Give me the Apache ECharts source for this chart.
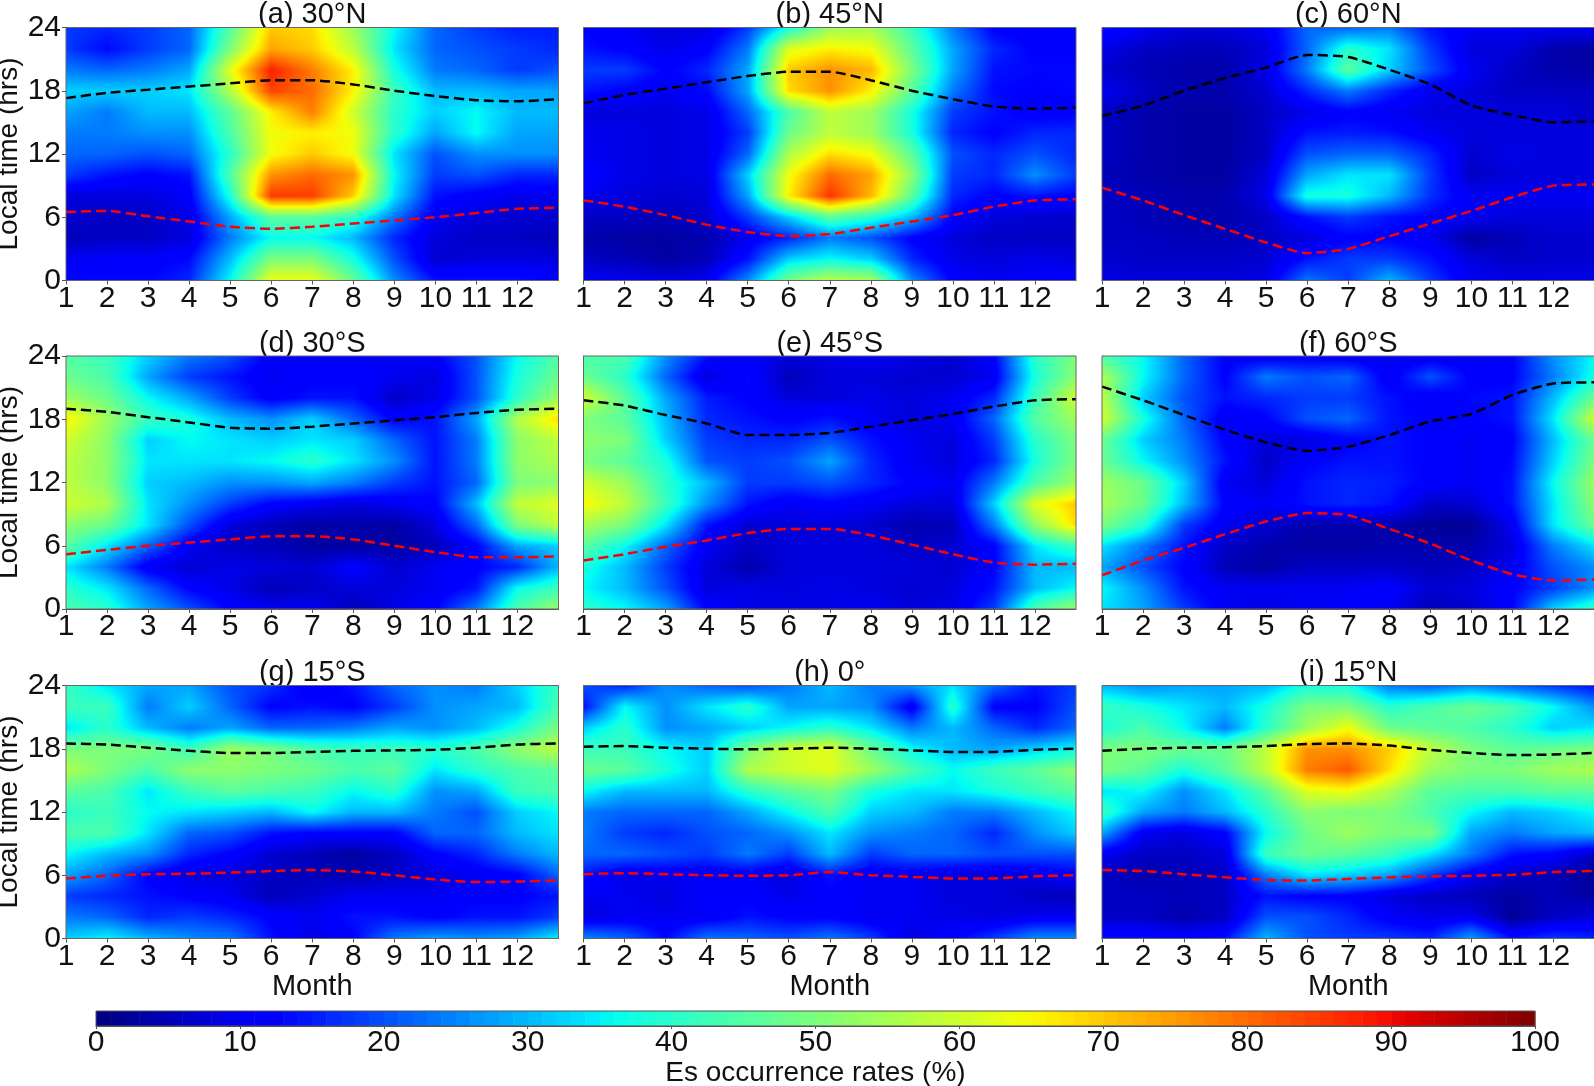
<!DOCTYPE html>
<html><head><meta charset="utf-8">
<style>html,body{margin:0;padding:0;background:#fff}#c{width:1594px;height:1086px}</style>
<script src="https://cdn.jsdelivr.net/npm/echarts@6/dist/echarts.min.js"></script>
</head><body><div id="c"></div>
<script>
const months=[1,2,3,4,5,6,7,8,9,10,11,12,13];
const hours=[24,22,20,18,16,14,12,10,8,6,4,2,0];
const titles=['(a) 30°N','(b) 45°N','(c) 60°N','(d) 30°S','(e) 45°S','(f) 60°S','(g) 15°S','(h) 0°','(i) 15°N'];
const panelA=[[18,16,18,22,45,70,68,54,36,22,18,15,15],[18,13,18,22,50,74,70,58,34,22,20,18,16],[24,22,24,28,62,88,78,66,38,24,22,18,20],[32,32,32,34,56,84,80,66,42,30,30,28,28],[28,24,30,30,46,66,78,60,40,32,36,30,30],[24,24,26,26,44,64,66,64,40,28,36,28,28],[22,22,20,22,40,64,70,64,34,20,26,26,26],[18,14,12,14,44,76,80,76,36,18,20,16,16],[8,8,8,11,38,85,85,70,34,14,11,9,10],[7,6,6,9,28,46,46,40,24,10,8,7,7],[5,6,6,8,24,36,36,30,16,8,6,6,5],[10,11,11,13,30,50,50,38,20,7,8,8,8],[13,13,13,16,36,64,64,48,26,14,14,14,12]];
const panelB=[[12,10,8,8,18,38,54,55,42,24,12,10,12],[14,12,9,12,24,62,66,64,46,28,16,12,12],[18,18,12,16,28,70,76,72,50,28,14,13,13],[14,12,10,13,28,68,76,66,46,24,13,12,13],[8,8,8,9,22,44,58,54,38,18,14,11,12],[10,9,8,9,18,48,58,54,38,16,12,16,16],[10,9,8,9,22,56,68,64,46,20,16,20,16],[12,9,8,9,32,64,80,74,52,18,16,26,18],[10,8,7,8,28,66,86,72,46,16,12,14,12],[6,6,5,7,18,32,46,40,30,12,8,7,7],[4,3,3,4,10,16,24,20,12,8,6,6,6],[6,5,3,5,14,32,36,32,16,9,8,9,8],[10,10,9,10,26,50,58,56,26,12,10,11,12]];
const panelC=[[14,10,8,8,10,22,22,24,14,10,10,10,10],[9,6,5,5,8,22,40,34,18,8,8,4,3],[7,5,4,4,9,24,46,32,20,10,6,4,3],[10,6,4,4,7,16,24,16,10,8,6,6,6],[6,4,3,3,6,9,12,10,8,8,8,8,6],[6,4,3,3,6,14,15,14,10,8,8,8,8],[6,4,3,3,6,20,22,22,16,7,9,8,8],[5,4,3,3,8,28,34,34,18,6,8,8,8],[6,5,4,4,9,38,38,30,17,10,10,10,10],[6,5,4,4,6,14,18,14,12,10,8,8,8],[6,6,5,5,6,8,12,12,10,3,5,7,7],[7,6,6,6,7,14,18,18,14,8,6,7,7],[9,8,8,8,9,24,18,30,18,10,9,9,9]];
const panelD=[[45,42,32,24,20,11,10,10,10,12,20,36,45],[48,44,28,18,14,10,12,12,10,8,20,38,48],[54,48,36,28,18,11,14,14,6,9,20,40,54],[66,54,42,38,30,26,32,22,12,14,28,56,68],[60,52,32,36,34,32,34,32,22,14,24,52,58],[58,52,34,34,34,36,40,34,26,14,24,52,56],[58,52,32,30,26,26,28,24,18,14,22,50,52],[60,56,34,26,18,12,10,8,10,12,30,58,62],[52,48,34,20,8,5,3,4,3,8,22,50,58],[46,34,22,10,6,5,3,3,3,5,12,28,32],[34,24,10,7,9,8,7,12,7,10,12,16,30],[40,34,22,12,9,5,6,8,8,10,14,36,42],[44,40,28,20,12,10,10,5,9,12,24,44,54]];
const panelE=[[44,44,26,14,11,8,9,10,9,7,12,40,50],[48,40,22,8,13,5,8,8,7,7,10,38,52],[60,46,28,15,12,8,8,9,8,10,16,42,60],[50,46,30,16,14,12,14,10,8,10,22,45,54],[52,50,32,18,16,16,20,14,10,8,18,40,50],[50,46,38,20,18,20,28,16,10,8,16,38,50],[60,54,40,30,18,18,20,16,12,10,24,44,54],[65,58,42,26,14,10,12,10,8,8,32,62,70],[55,50,34,14,7,8,8,7,4,5,24,52,68],[46,36,22,10,6,8,8,8,6,7,12,34,42],[38,30,18,8,4,8,8,8,8,7,12,30,30],[36,30,20,8,9,8,9,8,7,8,14,30,36],[40,36,28,12,9,9,9,10,8,9,18,44,54]];
const panelF=[[44,36,22,12,10,11,10,10,10,10,12,26,36],[56,36,22,12,24,20,22,10,20,12,12,24,38],[58,32,20,14,16,18,18,14,10,13,14,30,48],[60,38,22,10,12,20,22,14,12,12,14,34,60],[48,32,24,12,8,8,12,14,12,10,12,30,48],[48,36,26,14,6,12,14,14,12,10,13,32,50],[54,48,32,10,8,14,16,15,12,10,14,36,54],[55,48,30,12,10,14,16,14,6,7,14,34,52],[50,40,18,10,7,4,4,4,2,2,10,34,48],[34,24,14,6,4,3,3,4,4,4,8,24,34],[28,20,12,5,3,6,6,6,5,6,10,20,26],[36,26,14,10,10,10,10,12,7,8,12,18,26],[34,28,18,10,9,10,11,10,5,7,12,32,42]];
const panelG=[[42,34,28,28,20,17,10,14,22,26,24,32,42],[42,42,24,32,22,12,14,12,18,26,28,30,44],[34,40,30,24,28,22,22,24,28,26,30,38,50],[50,50,50,42,54,50,44,42,42,40,44,52,58],[56,50,44,52,52,50,48,44,46,34,40,44,46],[46,44,34,42,46,44,42,36,40,26,28,42,44],[40,42,36,34,32,30,36,30,30,24,20,32,36],[44,44,34,22,20,14,12,12,12,22,22,30,34],[36,30,26,16,12,7,5,3,6,12,16,24,30],[28,22,12,8,8,6,5,4,6,8,10,12,22],[18,16,14,12,10,5,7,10,10,10,12,12,14],[24,22,16,18,16,12,10,14,14,12,14,14,18],[32,36,30,26,24,14,8,12,24,28,26,28,36]];
const panelH=[[20,16,26,22,20,24,30,24,26,34,22,14,18],[14,36,26,34,40,28,28,26,10,40,12,12,20],[32,40,26,28,32,36,40,34,24,30,22,16,22],[42,42,36,32,50,60,62,48,36,30,28,32,36],[48,46,38,32,56,60,62,54,44,36,42,46,52],[36,30,30,30,40,46,50,38,34,34,38,42,46],[24,22,22,22,28,36,44,32,30,24,24,30,36],[24,18,16,20,22,26,34,26,24,22,16,26,32],[22,22,20,18,24,18,30,18,22,22,20,20,20],[14,9,10,10,10,8,14,10,10,8,8,9,12],[10,10,8,12,12,9,12,10,10,8,8,6,5],[8,10,10,10,14,12,12,10,10,9,8,10,10],[26,22,13,24,22,20,24,18,8,12,18,26,26]];
const panelI=[[30,26,28,28,30,38,38,24,22,26,22,18,14],[42,38,34,30,38,50,50,40,44,48,44,36,26],[38,44,36,24,40,54,64,48,46,44,40,32,34],[50,50,48,48,58,76,76,70,58,50,46,48,50],[50,46,38,46,58,78,82,68,54,50,50,54,56],[34,36,26,34,46,62,64,56,46,44,44,46,46],[42,28,24,30,40,52,50,50,44,36,30,32,36],[28,10,8,12,36,48,54,50,50,28,24,28,30],[10,6,6,8,42,48,46,42,34,24,14,12,6],[6,4,5,6,24,34,32,28,18,10,6,5,2],[6,6,5,6,14,12,12,8,6,5,3,5,3],[6,6,4,6,20,20,16,11,9,10,2,6,8],[14,14,12,14,30,20,18,18,16,28,14,18,16]];
const sunset=[
[17.3,17.8,18.1,18.4,18.7,19.0,19.0,18.6,18.0,17.5,17.1,17.0,17.2],
[16.8,17.6,18.2,18.8,19.4,19.8,19.8,19.0,18.0,17.2,16.5,16.3,16.4],
[15.6,16.6,18.0,19.2,20.2,21.4,21.2,20.0,18.6,16.6,15.7,15.0,15.1],
[19.0,18.7,18.2,17.7,17.2,17.1,17.3,17.6,17.9,18.2,18.6,18.9,19.0],
[19.8,19.3,18.4,17.6,16.5,16.5,16.7,17.3,17.9,18.5,19.2,19.8,19.9],
[21.1,19.8,18.4,17.0,15.8,15.0,15.4,16.5,17.8,18.5,20.3,21.4,21.5],
[18.5,18.4,18.1,17.8,17.6,17.6,17.7,17.8,17.85,17.9,18.1,18.4,18.5],
[18.2,18.25,18.1,18.0,17.95,18.0,18.1,18.0,17.85,17.7,17.7,17.9,18.0],
[17.8,18.0,18.1,18.15,18.25,18.45,18.5,18.3,17.9,17.6,17.4,17.45,17.6]];
const sunrise=[
[6.5,6.6,6.1,5.6,5.1,4.9,5.1,5.4,5.7,6.0,6.4,6.8,6.9],
[7.6,7.0,6.2,5.3,4.6,4.2,4.4,5.0,5.6,6.2,7.0,7.6,7.7],
[8.8,7.6,6.2,4.9,3.6,2.6,3.0,4.2,5.4,6.6,7.9,9.0,9.1],
[5.2,5.6,6.0,6.3,6.6,6.9,6.9,6.6,6.0,5.4,4.9,4.9,5.0],
[4.6,5.2,5.9,6.5,7.2,7.6,7.6,7.0,6.1,5.2,4.4,4.2,4.3],
[3.2,4.6,5.8,7.1,8.3,9.1,8.9,7.6,6.2,4.6,3.3,2.7,2.8],
[5.7,5.95,6.1,6.15,6.25,6.4,6.5,6.35,6.0,5.6,5.35,5.4,5.5],
[6.1,6.2,6.1,6.0,5.95,6.0,6.3,6.0,5.85,5.7,5.7,5.9,6.0],
[6.5,6.4,6.1,5.8,5.55,5.5,5.65,5.8,5.9,5.95,6.05,6.3,6.4]];
const colorbarLevels=Array.from({length:100},(_,k)=>k);
const colorbarTicks=[0,10,20,30,40,50,60,70,80,90,100];
const jetStops=[[0,0,0,127],[11,0,0,255],[12.5,0,0,255],[34,0,229,255],[36,0,255,240],[37.5,20,255,225],[64,240,255,10],[66,255,240,0],[89,255,20,0],[91,230,0,0],[100,127,0,0]];
const panels=[panelA,panelB,panelC,panelD,panelE,panelF,panelG,panelH,panelI];

const REG='"Liberation Sans",Arial,sans-serif', FS=30;
const colLeft=[66,583.5,1102], rowTop=[27.5,356,685.5], W=492.5, H=253;
function jet(v){
  v=Math.max(0,Math.min(100,v));
  for(let i=1;i<jetStops.length;i++){
    const a=jetStops[i-1],b=jetStops[i];
    if(v<=b[0]){const t=(v-a[0])/(b[0]-a[0]);return [a[1]+(b[1]-a[1])*t,a[2]+(b[2]-a[2])*t,a[3]+(b[3]-a[3])*t];}
  }
  return [127,0,0];
}
function cellImage(w,h,tl,tr,bl,br){
  const cv=document.createElement('canvas');cv.width=w;cv.height=h;
  const ctx=cv.getContext('2d'),im=ctx.createImageData(w,h);
  for(let y=0;y<h;y++){
    const ty=(y+.5)/h;
    for(let x=0;x<w;x++){
      const tx=(x+.5)/w;
      const v=(tl*(1-tx)+tr*tx)*(1-ty)+(bl*(1-tx)+br*tx)*ty;
      const c=jet(v),o=(y*w+x)*4;
      im.data[o]=c[0];im.data[o+1]=c[1];im.data[o+2]=c[2];im.data[o+3]=255;
    }
  }
  ctx.putImageData(im,0,0);
  return cv;
}
const grid=[],xAxis=[],yAxis=[],title=[],series=[];
const axisLine={show:true,lineStyle:{color:'#555',width:1}};
panels.forEach((p,i)=>{
  const col=i%3,row=Math.floor(i/3);
  grid.push({left:colLeft[col],top:rowTop[row],width:W,height:H,show:true,z:10,backgroundColor:'transparent',borderColor:'#666',borderWidth:1,outerBoundsMode:'none'});
  title.push({text:titles[i],left:colLeft[col]+W/2,top:rowTop[row]-27,textAlign:'center',z:1,padding:0,
    textStyle:{fontFamily:REG,fontSize:29,fontWeight:'normal',color:'#111'}});
  xAxis.push({type:'value',gridIndex:i,min:1,max:13,interval:1,position:'bottom',
    name:row===2?'Month':'',nameLocation:'middle',nameGap:32,
    nameTextStyle:{fontFamily:REG,fontSize:29,color:'#111',verticalAlign:'top'},
    axisLine:{...axisLine,onZero:false},axisTick:{show:true,length:4,lineStyle:{color:'#555'}},splitLine:{show:false},
    axisLabel:{fontFamily:REG,fontSize:FS,color:'#111',margin:3,hideOverlap:false,showMaxLabel:false,showMinLabel:true,
      formatter:v=>v>12?'':String(v)}});
  yAxis.push({type:'value',gridIndex:i,min:0,max:24,interval:6,
    name:col===0?'Local time (hrs)':'',nameLocation:'middle',nameGap:33,nameRotate:90,
    nameTextStyle:{fontFamily:REG,fontSize:28,color:'#111'},
    axisLine:{...axisLine,onZero:false},axisTick:{show:true,length:col===0?4:0,lineStyle:{color:'#555'}},splitLine:{show:false},
    axisLabel:{show:col===0,fontFamily:REG,fontSize:FS,color:'#111',margin:5,showMinLabel:true,showMaxLabel:true}});
  const nodes=[];
  hours.forEach((h,r)=>months.forEach((m,c)=>nodes.push([m,h,p[r][c]])));
  series.push({type:'custom',xAxisIndex:i,yAxisIndex:i,z:2,silent:true,animation:false,clip:true,
    encode:{x:0,y:1},data:nodes,
    renderItem:(params,api)=>{
      const idx=params.dataIndex,r=Math.floor(idx/months.length),c=idx%months.length;
      if(r===hours.length-1||c===months.length-1)return null;
      const tlp=api.coord([months[c],hours[r]]),brp=api.coord([months[c+1],hours[r+1]]);
      const x0=Math.round(tlp[0]),y0=Math.round(tlp[1]),x1=Math.round(brp[0]),y1=Math.round(brp[1]);
      return {type:'image',silent:true,style:{image:cellImage(x1-x0,y1-y0,p[r][c],p[r][c+1],p[r+1][c],p[r+1][c+1]),x:x0,y:y0,width:x1-x0,height:y1-y0}};
    }});
  series.push({type:'line',xAxisIndex:i,yAxisIndex:i,z:5,silent:true,animation:false,symbol:'none',smooth:0.2,
    data:months.map((m,k)=>[m,sunset[i][k]]),lineStyle:{color:'#000',width:2.5,type:[10,5]}});
  series.push({type:'line',xAxisIndex:i,yAxisIndex:i,z:5,silent:true,animation:false,symbol:'none',smooth:0.2,
    data:months.map((m,k)=>[m,sunrise[i][k]]),lineStyle:{color:'#ff0000',width:2.5,type:[10,5]}});
});
// colour bar
const cb=panels.length;
grid.push({left:96,top:1011,width:1439,height:15,show:true,z:10,backgroundColor:'transparent',borderColor:'#555',borderWidth:1,outerBoundsMode:'none'});
xAxis.push({type:'value',gridIndex:cb,min:colorbarTicks[0],max:100,interval:10,
  name:'Es occurrence rates (%)',nameLocation:'middle',nameGap:30,
  nameTextStyle:{fontFamily:REG,fontSize:28,color:'#111',verticalAlign:'top'},
  axisLine:{...axisLine,onZero:false},axisTick:{show:true,length:3,lineStyle:{color:'#555'}},splitLine:{show:false},
  axisLabel:{fontFamily:REG,fontSize:FS,color:'#111',margin:2,showMinLabel:true,showMaxLabel:true}});
yAxis.push({type:'value',gridIndex:cb,min:0,max:1,show:false});
series.push({type:'custom',xAxisIndex:cb,yAxisIndex:cb,z:2,silent:true,animation:false,encode:{x:0},
  data:colorbarLevels.map(v=>[v,0]),
  renderItem:(params,api)=>{
    const v=api.value(0),a=api.coord([v,1]),b=api.coord([v+1,0]),c=jet(v+.5);
    return {type:'rect',shape:{x:a[0],y:a[1],width:b[0]-a[0]+0.5,height:b[1]-a[1]},
      style:{fill:`rgb(${c[0]|0},${c[1]|0},${c[2]|0})`}};
  }});
const chart=echarts.init(document.getElementById('c'),null,{renderer:'canvas',width:1594,height:1086});
chart.setOption({animation:false,backgroundColor:'#fff',title,grid,xAxis,yAxis,series});
</script></body></html>
